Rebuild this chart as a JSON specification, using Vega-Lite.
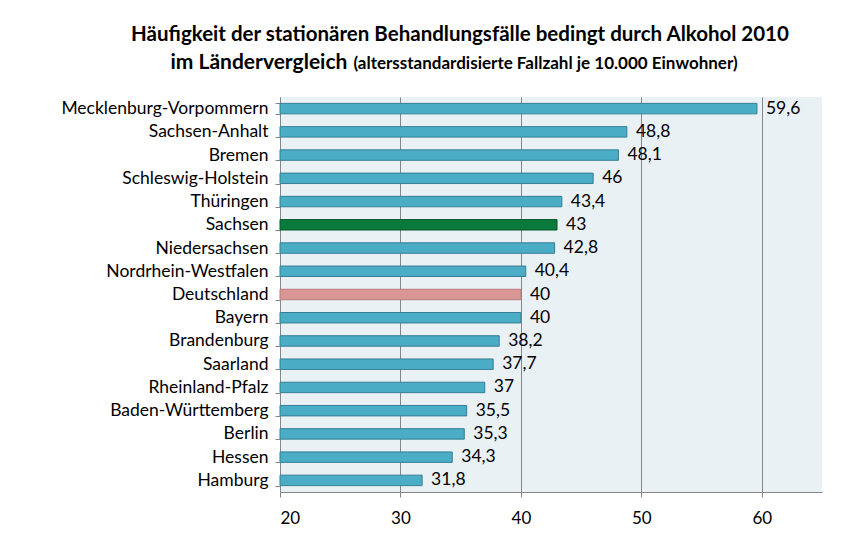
{
  "$schema": "https://vega.github.io/schema/vega-lite/v6.json",
  "autosize": "none",
  "width": 542,
  "height": 395,
  "padding": {"left": 280, "top": 97, "right": 26, "bottom": 62},
  "background": "#ffffff",
  "config": {
    "font": "Lato",
    "view": {"fill": "#eaf1f5", "stroke": null},
    "locale": {"number": {"decimal": ",", "thousands": ".", "grouping": [3], "currency": ["", " €"]}}
  },
  "title": {
    "text": "Häufigkeit der stationären Behandlungsfälle bedingt durch Alkohol 2010",
    "fontSize": 20.5,
    "fontWeight": "bold",
    "color": "#000000",
    "anchor": "middle",
    "frame": "group",
    "dx": -91,
    "offset": 6
  },
  "data": {
    "values": [
      {"land": "Mecklenburg-Vorpommern", "wert": 59.6, "typ": "Land"},
      {"land": "Sachsen-Anhalt", "wert": 48.8, "typ": "Land"},
      {"land": "Bremen", "wert": 48.1, "typ": "Land"},
      {"land": "Schleswig-Holstein", "wert": 46, "typ": "Land"},
      {"land": "Thüringen", "wert": 43.4, "typ": "Land"},
      {"land": "Sachsen", "wert": 43, "typ": "Sachsen"},
      {"land": "Niedersachsen", "wert": 42.8, "typ": "Land"},
      {"land": "Nordrhein-Westfalen", "wert": 40.4, "typ": "Land"},
      {"land": "Deutschland", "wert": 40, "typ": "Bund"},
      {"land": "Bayern", "wert": 40, "typ": "Land"},
      {"land": "Brandenburg", "wert": 38.2, "typ": "Land"},
      {"land": "Saarland", "wert": 37.7, "typ": "Land"},
      {"land": "Rheinland-Pfalz", "wert": 37, "typ": "Land"},
      {"land": "Baden-Württemberg", "wert": 35.5, "typ": "Land"},
      {"land": "Berlin", "wert": 35.3, "typ": "Land"},
      {"land": "Hessen", "wert": 34.3, "typ": "Land"},
      {"land": "Hamburg", "wert": 31.8, "typ": "Land"}
    ]
  },
  "resolve": {"axis": {"x": "independent", "y": "independent"}},
  "layer": [
    {
      "mark": {"type": "bar", "strokeWidth": 1},
      "encoding": {
        "y": {
          "field": "land", "type": "nominal", "sort": null,
          "scale": {"paddingInner": 0.55},
          "axis": {
            "title": null, "labelFontSize": 17.5, "labelColor": "#000000",
            "labelPadding": 7, "ticks": true, "tickSize": 5, "tickBand": "extent",
            "tickColor": "#868686", "domainColor": "#868686", "labelLimit": 400
          }
        },
        "x": {
          "field": "wert", "type": "quantitative",
          "scale": {"domain": [20, 65], "nice": false, "zero": false},
          "axis": {
            "title": null, "values": [20, 30, 40, 50, 60], "grid": true,
            "gridColor": "#868686", "gridWidth": 1, "domainColor": "#868686",
            "tickColor": "#868686", "tickSize": 5, "labelFontSize": 17,
            "labelColor": "#000000", "labelPadding": 13
          }
        },
        "x2": {"datum": 20},
        "color": {
          "field": "typ", "type": "nominal", "legend": null,
          "scale": {"domain": ["Land", "Sachsen", "Bund"], "range": ["#4bacc6", "#0a7a3c", "#d99694"]}
        },
        "stroke": {
          "field": "typ", "type": "nominal", "legend": null,
          "scale": {"domain": ["Land", "Sachsen", "Bund"], "range": ["#357f94", "#055a2b", "#b87a78"]}
        }
      }
    },
    {
      "mark": {"type": "text", "align": "left", "baseline": "middle", "dx": 9, "fontSize": 17.5, "color": "#000000"},
      "encoding": {
        "y": {
          "field": "land", "type": "nominal", "sort": null,
          "axis": {
            "orient": "right", "labels": false, "ticks": false, "domain": false,
            "title": "(altersstandardisierte Fallzahl je 10.000 Einwohner)",
            "titleAngle": 0, "titleX": -469, "titleY": -29, "titleAlign": "left",
            "titleBaseline": "alphabetic", "titleFontSize": 17, "titleFontWeight": "bold",
            "titleColor": "#000000"
          }
        },
        "x": {
          "field": "wert", "type": "quantitative",
          "axis": {
            "orient": "top", "labels": false, "ticks": false, "domain": false, "grid": false,
            "title": "im Ländervergleich",
            "titleX": -110, "titleY": -29, "titleAlign": "left",
            "titleBaseline": "alphabetic", "titleFontSize": 21, "titleFontWeight": "bold",
            "titleColor": "#000000"
          }
        },
        "text": {"field": "wert", "type": "quantitative", "format": "~r"}
      }
    }
  ]
}
